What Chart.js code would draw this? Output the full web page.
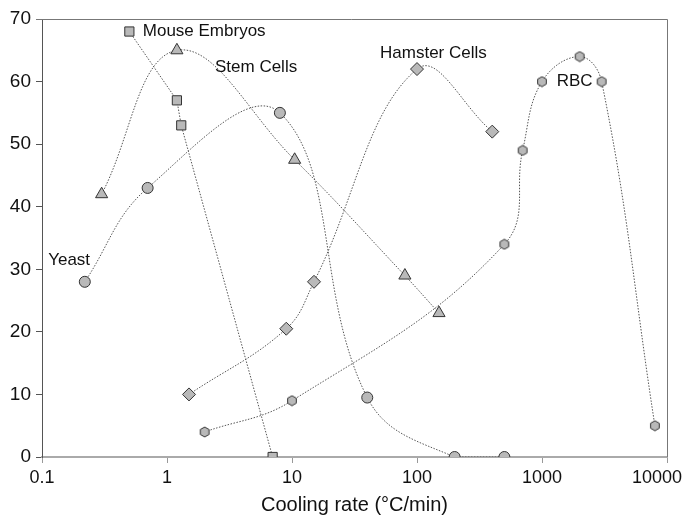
<!DOCTYPE html>
<html>
<head>
<meta charset="utf-8">
<script src="https://cdn.jsdelivr.net/npm/chart.js"></script>
<style>
  html, body { margin: 0; padding: 0; background: #fff; }
  #wrap { width: 683px; height: 517px; }
</style>
</head>
<body>
<div id="wrap"><canvas id="chart" width="683" height="517"></canvas></div>
<script>
// axis ticks
const xTicks = [0.1, 1, 10, 100, 1000, 10000];
const xTickLabels = ['0.1', '1', '10', '100', '1000', '10000\u00a0\u00a0\u00a0\u00a0'];
const yTicks = [0, 10, 20, 30, 40, 50, 60, 70];

// series (cooling rate in °C/min, survival)
const mouseX = [0.5, 1.2, 1.3, 7];
const mouseY = [68, 57, 53, 0];

const stemX = [0.3, 1.2, 10.5, 80, 150];
const stemY = [42, 65, 47.5, 29, 23];

const yeastX = [0.22, 0.7, 8, 40, 200, 500];
const yeastY = [28, 43, 55, 9.5, 0, 0];

const hamsterX = [1.5, 9, 15, 100, 400];
const hamsterY = [10, 20.5, 28, 62, 52];

const rbcX = [2, 10, 500, 700, 1000, 2000, 3000, 8000];
const rbcY = [4, 9, 34, 49, 60, 64, 60, 5];

// curve names placed in data coordinates
const labelNames = ['Mouse Embryos', 'Stem Cells', 'Hamster Cells', 'RBC', 'Yeast'];
const labelX = [0.64, 2.42, 50.6, 1311, 0.112];
const labelY = [68, 62.3, 64.5, 60, 31.5];

const FONT = "'Liberation Sans', Arial, sans-serif";
const FILL = '#b9b9b9';
const EDGE = '#333';
const LINE = '#555';

function pts(xs, ys) {
    return xs.map((x, i) => ({ x: x, y: ys[i] }));
}

// hexagon marker for RBC
function hexMarker() {
    const c = document.createElement('canvas');
    c.width = 12; c.height = 12;
    const g = c.getContext('2d');
    g.beginPath();
    for (let i = 0; i < 6; i++) {
        const a = Math.PI / 6 + i * Math.PI / 3;
        const px = 6 + 5 * Math.cos(a), py = 6 + 5 * Math.sin(a);
        if (i === 0) g.moveTo(px, py); else g.lineTo(px, py);
    }
    g.closePath();
    g.fillStyle = FILL;
    g.fill();
    g.strokeStyle = EDGE;
    g.lineWidth = 1;
    g.stroke();
    return c;
}

function series(label, data, style, radius, tension) {
    return {
        label: label,
        data: data,
        showLine: true,
        borderColor: LINE,
        borderWidth: 1,
        borderDash: [1.5, 1.5],
        tension: tension,
        pointStyle: style,
        pointRadius: radius,
        pointBackgroundColor: FILL,
        pointBorderColor: EDGE,
        pointBorderWidth: 1,
        fill: false
    };
}

const frame = {
    id: 'frame',
    beforeDatasetsDraw(chart) {
        const a = chart.chartArea;
        const ctx = chart.ctx;
        ctx.save();
        ctx.strokeStyle = '#777';
        ctx.lineWidth = 1;
        ctx.beginPath();
        ctx.moveTo(a.left - 6, a.top + 0.5);
        ctx.lineTo(a.right + 0.5, a.top + 0.5);
        ctx.lineTo(a.right + 0.5, a.bottom);
        ctx.stroke();
        ctx.restore();
    }
};

const curveLabels = {
    id: 'curveLabels',
    afterDatasetsDraw(chart) {
        const ctx = chart.ctx;
        const sx = chart.scales.x, sy = chart.scales.y;
        ctx.save();
        ctx.font = '17px ' + FONT;
        ctx.fillStyle = '#111';
        ctx.textAlign = 'left';
        ctx.textBaseline = 'middle';
        labelNames.forEach((t, i) => {
            ctx.fillText(t, sx.getPixelForValue(labelX[i]), sy.getPixelForValue(labelY[i]));
        });
        ctx.restore();
    }
};

new Chart(document.getElementById('chart'), {
    type: 'scatter',
    data: {
        datasets: [
            series('Mouse Embryos', pts(mouseX, mouseY), 'rect', 6.5, 0),
            series('Stem Cells', pts(stemX, stemY), 'triangle', 7, 0.4),
            series('Yeast', pts(yeastX, yeastY), 'circle', 5.5, 0.4),
            series('Hamster Cells', pts(hamsterX, hamsterY), 'rectRot', 6.5, 0.4),
            series('RBC', pts(rbcX, rbcY), hexMarker(), 6, 0.4)
        ]
    },
    options: {
        responsive: false,
        animation: false,
        layout: { padding: { top: 19, right: 16, left: 0, bottom: 0 } },
        plugins: {
            legend: { display: false },
            tooltip: { enabled: false }
        },
        scales: {
            x: {
                type: 'logarithmic',
                min: 0.1,
                max: 10000,
                afterBuildTicks: (s) => { s.ticks = xTicks.map(v => ({ value: v })); },
                afterFit: (s) => { s.height = 60; s.paddingLeft = 0; s.paddingRight = 0; },
                ticks: {
                    autoSkip: false,
                    maxRotation: 0,
                    padding: 4,
                    color: '#111',
                    font: { family: FONT, size: 18 },
                    callback: (v, i) => xTickLabels[i]
                },
                grid: { drawOnChartArea: false, tickLength: 6, color: '#999' },
                border: { color: '#aaa', width: 2 },
                title: {
                    display: true,
                    text: 'Cooling rate (°C/min)',
                    color: '#111',
                    font: { family: FONT, size: 20 },
                    padding: 0
                }
            },
            y: {
                min: 0,
                max: 70,
                afterBuildTicks: (s) => { s.ticks = yTicks.map(v => ({ value: v })); },
                afterFit: (s) => { s.width = 42; s.paddingTop = 0; s.paddingBottom = 0; },
                ticks: {
                    padding: 5,
                    color: '#111',
                    font: { family: FONT, size: 19 }
                },
                grid: { drawOnChartArea: false, tickLength: 6, color: '#555' },
                border: { color: '#555', width: 1 }
            }
        }
    },
    plugins: [frame, curveLabels]
});
</script>
</body>
</html>
